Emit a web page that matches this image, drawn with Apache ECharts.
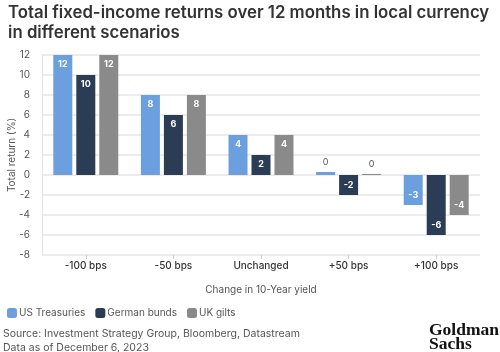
<!DOCTYPE html>
<html><head><meta charset="utf-8">
<script src="https://cdn.jsdelivr.net/npm/echarts@6/dist/echarts.min.js"></script>
<style>html,body{margin:0;padding:0;background:#fff}#c{width:500px;height:352px}</style>
</head><body><div id="c"></div>
<script>
var categories = ['-100 bps', '-50 bps', 'Unchanged', '+50 bps', '+100 bps'];
var usTreasuries = [12, 8, 4, 0.3, -3];
var germanBunds = [10, 6, 2, -2, -6];
var ukGilts = [12, 8, 4, 0.1, -4];
var yTicks = { min: -8, max: 12, interval: 2 };

var colors = ['#6b9fdd', '#2b3c55', '#8a8a8a'];
function mkData(arr) {
  return arr.map(function (v) {
    var lab;
    if (Math.abs(v) < 1) lab = { position: 'top', color: '#555', fontWeight: 'normal' };
    else if (v > 0) lab = { position: 'insideTop' };
    else lab = { position: 'insideBottom' };
    return { value: v, label: lab };
  });
}
function mkSeries(name, arr, color) {
  return {
    name: name, type: 'bar', data: mkData(arr), barWidth: 19, barGap: '21%',
    itemStyle: { color: color },
    label: { show: true, color: '#fff', fontSize: 9, fontWeight: 'bold', distance: 5,
      fontFamily: 'Inter', formatter: function (p) { return Math.round(p.value); } }
  };
}
var chart = echarts.init(document.getElementById('c'));
chart.setOption({
  animation: false,
  textStyle: { fontFamily: 'Inter' },
  title: {
    text: 'Total fixed-income returns over 12 months in local currency\nin different scenarios',
    left: 3, top: -2,
    textStyle: { fontSize: 16.8, fontWeight: 600, color: '#333', lineHeight: 20, fontFamily: 'Inter' }
  },
  legend: {
    left: 2, top: 303, itemWidth: 10, itemHeight: 10, itemGap: 10,
    icon: 'roundRect',
    textStyle: { fontSize: 10, color: '#555', padding: [0, 0, 0, -3] },
    data: ['US Treasuries', 'German bunds', 'UK gilts']
  },
  grid: { left: 42, right: 20, top: 55, bottom: 97, outerBoundsMode: 'none', containLabel: false },
  xAxis: {
    type: 'category', data: categories,
    name: 'Change in 10-Year yield', nameLocation: 'middle', nameGap: 30,
    nameTextStyle: { fontSize: 10, color: '#555' },
    axisLine: { show: false, onZero: false },
    axisTick: { show: true, alignWithLabel: true, length: 4, lineStyle: { color: '#ccc' } },
    axisLabel: { fontSize: 10, color: '#333', fontWeight: 500, margin: 6 }
  },
  yAxis: {
    type: 'value', min: yTicks.min, max: yTicks.max, interval: yTicks.interval,
    name: 'Total return (%)', nameLocation: 'middle', nameGap: 25, nameMoveOverlap: false,
    nameTextStyle: { fontSize: 10, color: '#555' },
    axisLine: { show: true, lineStyle: { color: '#e3e3e3' } },
    axisLabel: { fontSize: 10, color: '#555', margin: 12 },
    splitLine: { lineStyle: { color: '#e6e6e6', width: 1.5 } }
  },
  series: [
    mkSeries('US Treasuries', usTreasuries, colors[0]),
    mkSeries('German bunds', germanBunds, colors[1]),
    mkSeries('UK gilts', ukGilts, colors[2])
  ],
  graphic: [
    { type: 'text', left: 3, top: 327, style: { text: 'Source: Investment Strategy Group, Bloomberg, Datastream\nData as of December 6, 2023', fontSize: 10.5, lineHeight: 14, fill: '#555', fontFamily: 'Inter' } },
    { type: 'text', right: 1, top: 321, style: { text: 'Goldman\nSachs', fontSize: 17.5, lineHeight: 14.5, fontWeight: 'bold', fill: '#111', fontFamily: 'Liberation Serif' } }
  ]
});
</script></body></html>
